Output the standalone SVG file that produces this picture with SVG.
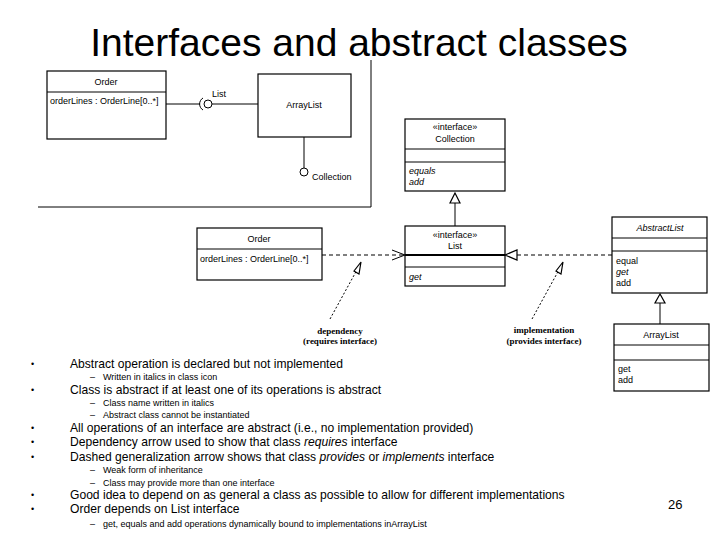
<svg xmlns="http://www.w3.org/2000/svg" width="720" height="540" viewBox="0 0 720 540">
<style>
text{font-family:"Liberation Sans",Arial,sans-serif;fill:#000}
.b{fill:#fff;stroke:#000;stroke-width:1.2}
.l{stroke:#000;stroke-width:1;fill:none}
.d{stroke:#000;stroke-width:1.2;fill:none;stroke-dasharray:4,3}
.s{font-size:9px}
.m{font-size:12.1px}
.n{font-size:9px}
.bu{font-size:9px}
.ser{font-family:"Liberation Serif",serif;font-size:9px;font-weight:bold}
</style>
<rect width="720" height="540" fill="#fff"/>
<text x="359" y="56" text-anchor="middle" font-size="39">Interfaces and abstract classes</text>
<g id="frame"><path class="l" d="M371 60V207H38"/></g>
<g id="order1"><rect class="b" x="47" y="71" width="119" height="68"/><line class="l" x1="47" y1="92" x2="166" y2="92"/><text class="s" x="106" y="85" text-anchor="middle">Order</text><text class="s" x="50" y="104">orderLines : OrderLine[0..*]</text></g>
<g id="arraylist1"><rect class="b" x="258" y="74" width="93" height="63"/><text class="s" x="304" y="108" text-anchor="middle">ArrayList</text></g>
<g id="conn1">
<line class="l" x1="166" y1="104" x2="200" y2="104"/>
<path class="l" d="M203 98A7 7 0 0 0 203 110"/>
<circle class="l" cx="208" cy="104" r="4"/>
<line class="l" x1="212" y1="104" x2="258" y2="104"/>
<text class="s" x="212" y="97">List</text>
<line class="l" x1="304" y1="137" x2="304" y2="168"/>
<circle class="l" cx="304" cy="172" r="4"/>
<text class="s" x="312" y="180">Collection</text>
</g>
<g id="collection"><rect class="b" x="405" y="119" width="100" height="72"/><line class="l" x1="405" y1="149" x2="505" y2="149"/><line class="l" x1="405" y1="162" x2="505" y2="162"/><text class="s" x="455" y="130" text-anchor="middle">«interface»</text><text class="s" x="455" y="142" text-anchor="middle">Collection</text><text class="s" x="409" y="174" font-style="italic">equals</text><text class="s" x="409" y="185" font-style="italic">add</text></g>
<g id="list"><rect class="b" x="405" y="226" width="100" height="60"/><line x1="405" y1="255" x2="505" y2="255" stroke="#000" stroke-width="2"/><line class="l" x1="405" y1="267" x2="505" y2="267"/><text class="s" x="455" y="238" text-anchor="middle">«interface»</text><text class="s" x="455" y="249" text-anchor="middle">List</text><text class="s" x="409" y="280" font-style="italic">get</text></g>
<g id="order2"><rect class="b" x="197" y="228" width="125" height="52"/><line class="l" x1="197" y1="249" x2="322" y2="249"/><text class="s" x="259" y="242" text-anchor="middle">Order</text><text class="s" x="200" y="262">orderLines : OrderLine[0..*]</text></g>
<g id="abstractlist"><rect class="b" x="612" y="217" width="95" height="76"/><line class="l" x1="612" y1="238" x2="707" y2="238"/><line class="l" x1="612" y1="251" x2="707" y2="251"/><text class="s" x="660" y="231" text-anchor="middle" font-style="italic">AbstractList</text><text class="s" x="616" y="264">equal</text><text class="s" x="616" y="275" font-style="italic">get</text><text class="s" x="616" y="286">add</text></g>
<g id="arraylist2"><rect class="b" x="614" y="324" width="95" height="67"/><line class="l" x1="614" y1="345" x2="709" y2="345"/><line class="l" x1="614" y1="360" x2="709" y2="360"/><text class="s" x="661" y="338" text-anchor="middle">ArrayList</text><text class="s" x="618" y="372">get</text><text class="s" x="618" y="383">add</text></g>
<g id="connectors">
<path class="b" d="M455 193L450 203H460Z"/><line class="l" x1="455" y1="203" x2="455" y2="226"/>
<path class="b" d="M660 294L655 303H665Z"/><line class="l" x1="660" y1="303" x2="660" y2="324"/>
<line class="d" x1="322" y1="255" x2="404" y2="255"/><path class="l" stroke-width="1.2" d="M392 250L405 255L392 260"/>
<line class="d" x1="517" y1="255" x2="612" y2="255"/><path class="b" d="M505 255L517 250V260Z"/>
<line class="l" stroke-dasharray="2,2" x1="330" y1="319" x2="358" y2="268"/><path class="b" d="M361 262L354 271L359 274Z"/>
<line class="l" stroke-dasharray="2,2" x1="532" y1="319" x2="560" y2="268"/><path class="b" d="M563 262L556 271L561 274Z"/>
<text class="ser" x="340" y="334" text-anchor="middle">dependency</text><text class="ser" x="340" y="344" text-anchor="middle">(requires  interface)</text>
<text class="ser" x="544" y="333" text-anchor="middle">implementation</text><text class="ser" x="544" y="344" text-anchor="middle">(provides interface)</text>
</g>
<g id="bullets">
<text class="bu" x="31" y="367">•</text><text class="m" x="70" y="368">Abstract operation is declared but not implemented</text>
<text class="n" x="90" y="380">–</text><text class="n" x="103" y="380">Written in italics in class icon</text>
<text class="bu" x="31" y="393">•</text><text class="m" x="70" y="394">Class is abstract if at least one of its operations is abstract</text>
<text class="n" x="90" y="406">–</text><text class="n" x="103" y="406">Class name written in italics</text>
<text class="n" x="90" y="418">–</text><text class="n" x="103" y="418">Abstract class cannot be instantiated</text>
<text class="bu" x="31" y="431">•</text><text class="m" x="70" y="432">All operations of an interface are abstract (i.e., no implementation provided)</text>
<text class="bu" x="31" y="445">•</text><text class="m" x="70" y="446">Dependency arrow used to show that class <tspan font-style="italic">requires</tspan> interface</text>
<text class="bu" x="31" y="460">•</text><text class="m" x="70" y="461">Dashed generalization arrow shows that class <tspan font-style="italic">provides</tspan> or <tspan font-style="italic">implements</tspan> interface</text>
<text class="n" x="90" y="473">–</text><text class="n" x="103" y="473">Weak form of inheritance</text>
<text class="n" x="90" y="486">–</text><text class="n" x="103" y="486">Class may provide more than one interface</text>
<text class="bu" x="31" y="498">•</text><text class="m" x="70" y="499">Good idea to depend on as general a class as possible to allow for different implementations</text>
<text class="bu" x="31" y="512">•</text><text class="m" x="70" y="513">Order depends on List interface</text>
<text class="n" x="90" y="527">–</text><text class="n" x="103" y="527">get, equals and add operations dynamically bound to implementations inArrayList</text>
</g>
<text x="668" y="509" font-size="13">26</text>
</svg>
